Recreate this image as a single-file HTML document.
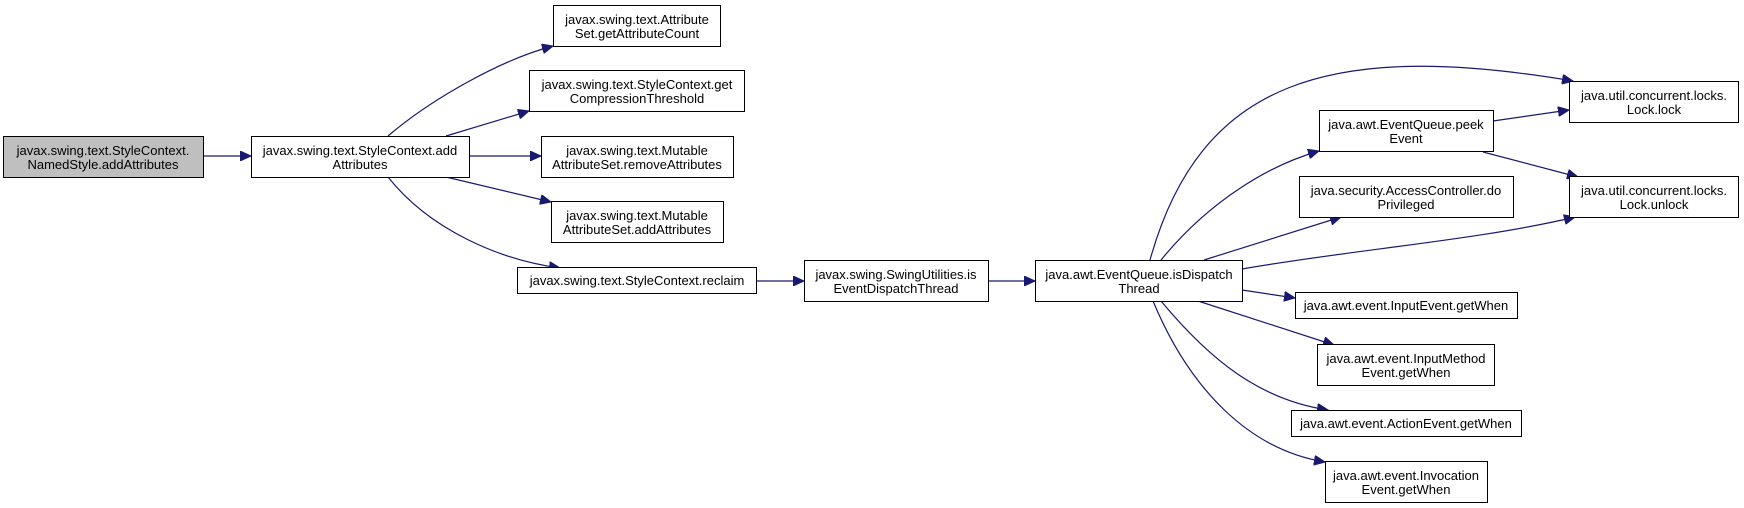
<!DOCTYPE html>
<html><head><meta charset="utf-8"><style>
html,body{margin:0;padding:0;background:#fff;}
svg{display:block;}
text{font-family:"Liberation Sans",Arial,sans-serif;font-size:13px;fill:#000;text-anchor:middle;}
rect{stroke:#000;stroke-width:1;fill:#fff;}
path.e{stroke:#191970;stroke-width:1.2;fill:none;}
</style></head><body>
<svg width="1744" height="508" viewBox="0 0 1744 508" xmlns="http://www.w3.org/2000/svg">
<defs>
<marker id="a" markerWidth="12" markerHeight="10" refX="11" refY="5" orient="auto" markerUnits="userSpaceOnUse">
<path d="M0,0 L11,5 L0,10 Z" fill="#191970" stroke="#191970"/>
</marker>
</defs>
<!-- edges -->
<path class="e" marker-end="url(#a)" d="M203,156 L251,156"/>
<path class="e" marker-end="url(#a)" d="M388,136 C430,100 500,60 553,46"/>
<path class="e" marker-end="url(#a)" d="M446,136 L529,111"/>
<path class="e" marker-end="url(#a)" d="M469,156 L541,156"/>
<path class="e" marker-end="url(#a)" d="M446,177 L551,202"/>
<path class="e" marker-end="url(#a)" d="M388,177 C430,230 500,260 560,268"/>
<path class="e" marker-end="url(#a)" d="M756,281 L804,281"/>
<path class="e" marker-end="url(#a)" d="M988,281 L1035,281"/>
<path class="e" marker-end="url(#a)" d="M1150,260 C1200,80 1330,40 1573,81"/>
<path class="e" marker-end="url(#a)" d="M1161,260 C1210,200 1270,165 1319,151"/>
<path class="e" marker-end="url(#a)" d="M1204,260 L1341,217"/>
<path class="e" marker-end="url(#a)" d="M1242,269 C1350,250 1480,240 1575,217"/>
<path class="e" marker-end="url(#a)" d="M1242,290 L1295,298"/>
<path class="e" marker-end="url(#a)" d="M1198,301 L1334,345"/>
<path class="e" marker-end="url(#a)" d="M1161,301 C1210,360 1260,400 1328,410"/>
<path class="e" marker-end="url(#a)" d="M1153,301 C1190,390 1250,450 1325,462"/>
<path class="e" marker-end="url(#a)" d="M1493,121 L1569,110"/>
<path class="e" marker-end="url(#a)" d="M1483,152 L1578,177"/>
<!-- nodes -->
<rect x="3.5" y="136.5" width="200" height="41" style="fill:#bfbfbf"/>
<text x="103" y="155">javax.swing.text.StyleContext.</text><text x="103" y="169">NamedStyle.addAttributes</text>

<rect x="251.5" y="136.5" width="218" height="41"/>
<text x="360" y="155">javax.swing.text.StyleContext.add</text><text x="360" y="169">Attributes</text>

<rect x="553.5" y="5.5" width="167" height="41"/>
<text x="637" y="24">javax.swing.text.Attribute</text><text x="637" y="38">Set.getAttributeCount</text>

<rect x="529.5" y="70.5" width="215" height="41"/>
<text x="637" y="89">javax.swing.text.StyleContext.get</text><text x="637" y="103">CompressionThreshold</text>

<rect x="541.5" y="136.5" width="192" height="41"/>
<text x="637" y="155">javax.swing.text.Mutable</text><text x="637" y="169">AttributeSet.removeAttributes</text>

<rect x="551.5" y="201.5" width="172" height="41"/>
<text x="637" y="220">javax.swing.text.Mutable</text><text x="637" y="234">AttributeSet.addAttributes</text>

<rect x="517.5" y="267.5" width="239" height="26"/>
<text x="637" y="285">javax.swing.text.StyleContext.reclaim</text>

<rect x="804.5" y="260.5" width="184" height="41"/>
<text x="896" y="279">javax.swing.SwingUtilities.is</text><text x="896" y="293">EventDispatchThread</text>

<rect x="1035.5" y="260.5" width="207" height="41"/>
<text x="1139" y="279">java.awt.EventQueue.isDispatch</text><text x="1139" y="293">Thread</text>

<rect x="1569.5" y="81.5" width="169" height="41"/>
<text x="1654" y="100">java.util.concurrent.locks.</text><text x="1654" y="114">Lock.lock</text>

<rect x="1319.5" y="110.5" width="174" height="41"/>
<text x="1406" y="129">java.awt.EventQueue.peek</text><text x="1406" y="143">Event</text>

<rect x="1569.5" y="176.5" width="169" height="41"/>
<text x="1654" y="195">java.util.concurrent.locks.</text><text x="1654" y="209">Lock.unlock</text>

<rect x="1299.5" y="176.5" width="214" height="41"/>
<text x="1406" y="195">java.security.AccessController.do</text><text x="1406" y="209">Privileged</text>

<rect x="1295.5" y="292.5" width="222" height="26"/>
<text x="1406" y="310">java.awt.event.InputEvent.getWhen</text>

<rect x="1317.5" y="344.5" width="177" height="41"/>
<text x="1406" y="363">java.awt.event.InputMethod</text><text x="1406" y="377">Event.getWhen</text>

<rect x="1291.5" y="410.5" width="230" height="26"/>
<text x="1406" y="428">java.awt.event.ActionEvent.getWhen</text>

<rect x="1325.5" y="461.5" width="162" height="41"/>
<text x="1406" y="480">java.awt.event.Invocation</text><text x="1406" y="494">Event.getWhen</text>
</svg>
</body></html>
